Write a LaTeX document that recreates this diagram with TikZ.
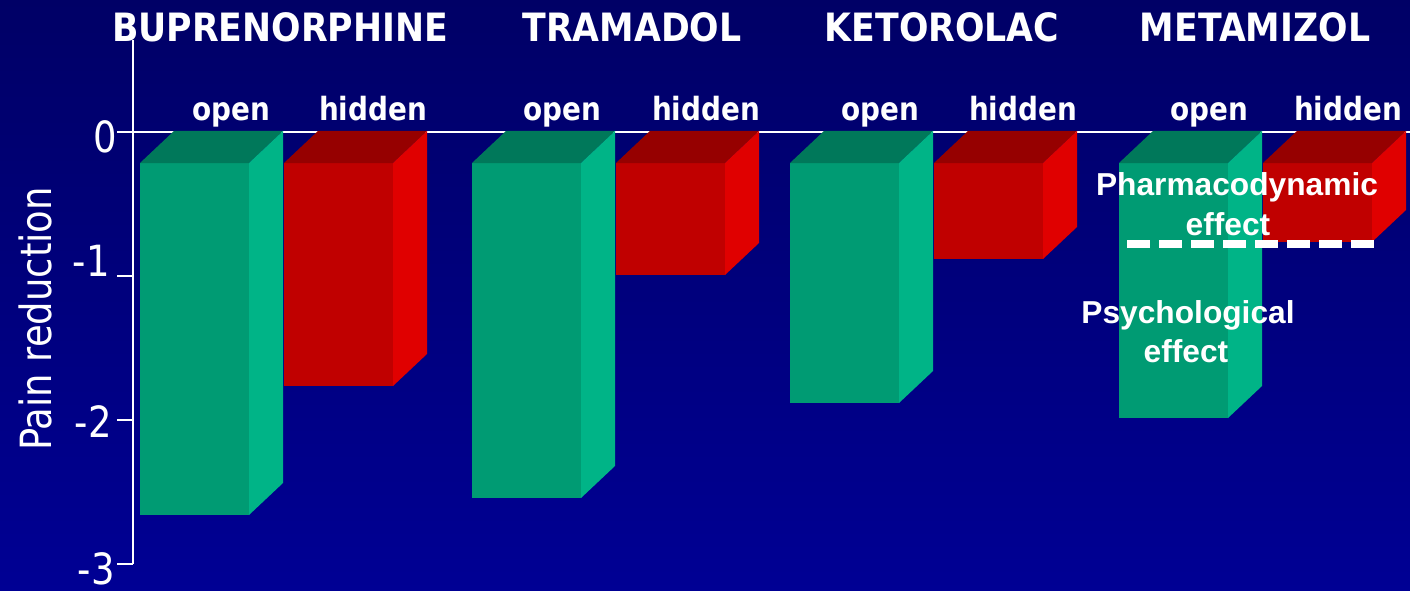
\documentclass[tikz,border=0pt]{standalone}
\usepackage{fontspec}
\newfontfamily\tah{DejaVu Sans}[FakeStretch=0.86]
\newfontfamily\tahb{DejaVu Sans}[FakeStretch=0.87]
\newfontfamily\tahh{DejaVu Sans}[FakeStretch=0.89]
\newfontfamily\arb{Liberation Sans}
\definecolor{bgtop}{RGB}{0,0,102}
\definecolor{bgbot}{RGB}{0,0,148}
\definecolor{gfront}{RGB}{0,155,115}
\definecolor{gtop}{RGB}{0,120,90}
\definecolor{gside}{RGB}{0,180,135}
\definecolor{rfront}{RGB}{192,0,0}
\definecolor{rtop}{RGB}{150,0,0}
\definecolor{rside}{RGB}{224,0,0}
\newcommand{\mybar}[5]{%
  \fill[#3] (#1,163) rectangle (#1+109,#2);
  \fill[#4] (#1,163) -- (#1+34,131) -- (#1+143,131) -- (#1+109,163) -- cycle;
  \fill[#5] (#1+109,163) -- (#1+143,131) -- (#1+143,#2-32) -- (#1+109,#2) -- cycle;}
\begin{document}
\begin{tikzpicture}[x=1pt,y=-1pt,
  ttl/.style={text=white,inner sep=0pt,anchor=base,font=\tahh\bfseries\fontsize{39}{41}\selectfont},
  lbl/.style={text=white,inner sep=0pt,anchor=base,font=\tahb\bfseries\fontsize{32}{34}\selectfont},
  ticklbl/.style={text=white,inner sep=0pt,text depth=0pt,anchor=base east,font=\tah\fontsize{43}{45}\selectfont},
  eff/.style={text=white,inner sep=0pt,anchor=base,font=\arb\bfseries\fontsize{31.7}{33}\selectfont},
  axisline/.style={white,line width=2pt}]
\useasboundingbox (0,0) rectangle (1410,591);
\shade[top color=bgtop,bottom color=bgbot] (0,0) rectangle (1410,591);
% axis coordinates
\coordinate (atop) at (133,40);
\coordinate (a0) at (133,132);
\coordinate (a1) at (133,276);
\coordinate (a2) at (133,420);
\coordinate (a3) at (133,564);
\coordinate (t0) at (117,132);
\coordinate (t1) at (117,276);
\coordinate (t2) at (117,420);
\coordinate (t3) at (117,564);
\coordinate (zr) at (1410,132);
\draw[axisline] (atop) -- (a3);
\draw[axisline] (t0) -- (zr);
\draw[axisline] (t1) -- (a1);
\draw[axisline] (t2) -- (a2);
\draw[axisline] (t3) -- (a3);
% tick labels
\node[ticklbl] (l0) at (117,153) {0};
\node[ticklbl] (l1) at (110,276) {-1};
\node[ticklbl] (l2) at (112,437) {-2};
\node[ticklbl] (l3) at (115,584) {-3};
\node[text=white,inner sep=0pt,anchor=base,rotate=90,font=\tah\fontsize{43}{45}\selectfont] (ylab) at (51,319) {Pain reduction};
% bars
\mybar{140}{515}{gfront}{gtop}{gside}
\mybar{284}{386}{rfront}{rtop}{rside}
\mybar{472}{498}{gfront}{gtop}{gside}
\mybar{616}{275}{rfront}{rtop}{rside}
\mybar{790}{403}{gfront}{gtop}{gside}
\mybar{934}{259}{rfront}{rtop}{rside}
\mybar{1119}{418}{gfront}{gtop}{gside}
\mybar{1263}{242}{rfront}{rtop}{rside}
% titles
\node[ttl] (h1) at (280,42) {BUPRENORPHINE};
\node[ttl] (h2) at (632,42) {TRAMADOL};
\node[ttl] (h3) at (942,42) {KETOROLAC};
\node[ttl] (h4) at (1255,42) {METAMIZOL};
% open / hidden
\node[lbl] (o1) at (231,121) {open};
\node[lbl] (d1) at (373,121) {hidden};
\node[lbl] (o2) at (562,121) {open};
\node[lbl] (d2) at (706,121) {hidden};
\node[lbl] (o3) at (880,121) {open};
\node[lbl] (d3) at (1023,121) {hidden};
\node[lbl] (o4) at (1209,121) {open};
\node[lbl] (d4) at (1348,121) {hidden};
% effects
\node[eff] (pd1) at (1237,195) {Pharmacodynamic};
\node[eff] (pd2) at (1228,235) {effect};
\node[eff] (ps1) at (1188,323) {Psychological};
\node[eff] (ps2) at (1186,362) {effect};
\coordinate (dl) at (1127,244);
\coordinate (dr) at (1375,244);
\draw[white,line width=8pt,dash pattern=on 23pt off 9pt] (dl) -- (dr);
\end{tikzpicture}
\end{document}
